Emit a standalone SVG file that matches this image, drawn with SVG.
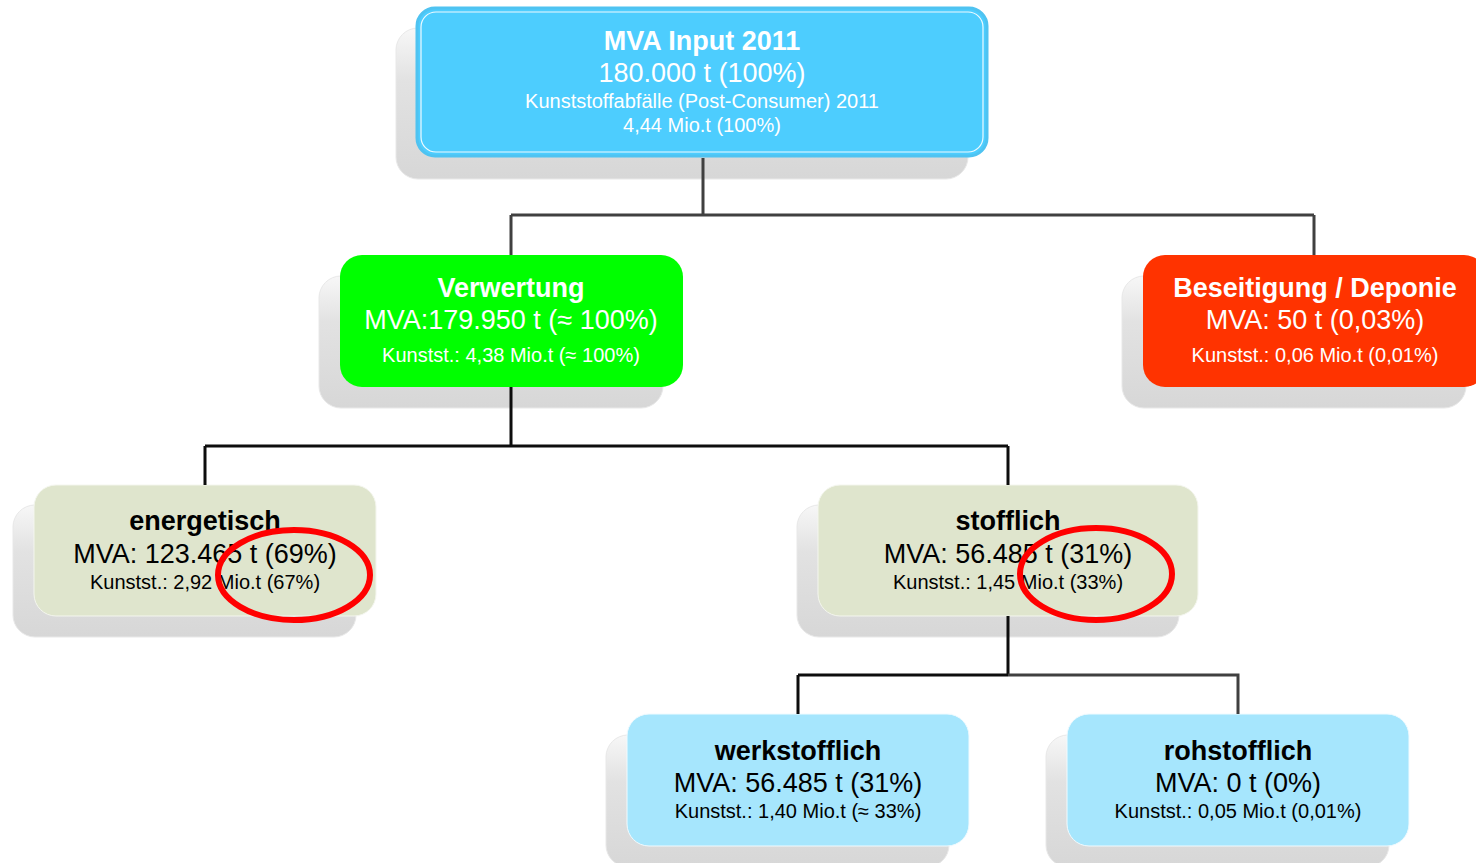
<svg xmlns="http://www.w3.org/2000/svg" width="1476" height="863" viewBox="0 0 1476 863">
<defs>
<linearGradient id="shd" x1="0" y1="0" x2="0" y2="1">
<stop offset="0" stop-color="#f7f7f7"/>
<stop offset="0.35" stop-color="#e2e2e2"/>
<stop offset="1" stop-color="#d7d7d7"/>
</linearGradient>
</defs>
<style>
.shadow{fill:url(#shd);stroke:#e8e8e8;stroke-width:1}
text{font-family:"Liberation Sans",Arial,sans-serif;text-anchor:middle}
.t1{font-size:27px;font-weight:bold}
.t2{font-size:27px}
.t3{font-size:20px}
.w{fill:#ffffff}
.k{fill:#000000}
.conn{fill:none;stroke-width:3;stroke-linejoin:miter}
.ell{fill:none;stroke:#ff0000;stroke-width:6}
</style>
<rect width="1476" height="863" fill="#ffffff"/>
<g id="node-input">
<rect class="shadow" x="396" y="28" width="572" height="151" rx="22"/>
<rect x="417" y="8" width="570" height="148" rx="18" fill="#4dcdfe" stroke="#4fc3f1" stroke-width="3"/>
<rect x="421" y="12" width="562" height="140" rx="15" fill="none" stroke="#ffffff" stroke-width="1.2" opacity="0.9"/>
<text class="t1 w" x="702" y="50">MVA Input 2011</text>
<text class="t2 w" x="702" y="82">180.000 t (100%)</text>
<text class="t3 w" x="702" y="108">Kunststoffabfälle (Post-Consumer) 2011</text>
<text class="t3 w" x="702" y="132">4,44 Mio.t (100%)</text>
</g>
<g id="node-verwertung">
<rect class="shadow" x="319" y="276" width="344" height="132" rx="22"/>
<rect x="340" y="255" width="343" height="132" rx="22" fill="#00ff00"/>
<text class="t1 w" x="511" y="297">Verwertung</text>
<text class="t2 w" x="511" y="329">MVA:179.950 t (≈ 100%)</text>
<text class="t3 w" x="511" y="362">Kunstst.: 4,38 Mio.t (≈ 100%)</text>
</g>
<g id="node-beseitigung">
<rect class="shadow" x="1122" y="276" width="344" height="132" rx="22"/>
<rect x="1143" y="255" width="343" height="132" rx="22" fill="#ff3300"/>
<text class="t1 w" x="1315" y="297">Beseitigung / Deponie</text>
<text class="t2 w" x="1315" y="329">MVA: 50 t (0,03%)</text>
<text class="t3 w" x="1315" y="362">Kunstst.: 0,06 Mio.t (0,01%)</text>
</g>
<g id="node-energetisch">
<rect class="shadow" x="13" y="505" width="343" height="132" rx="22"/>
<rect x="34" y="485" width="342" height="131" rx="22" fill="#dfe5cd" stroke="#f4f6ee" stroke-width="1"/>
<text class="t1 k" x="205" y="530">energetisch</text>
<text class="t2 k" x="205" y="563">MVA: 123.465 t (69%)</text>
<text class="t3 k" x="205" y="589">Kunstst.: 2,92 Mio.t (67%)</text>
</g>
<g id="node-stofflich">
<rect class="shadow" x="797" y="505" width="382" height="132" rx="22"/>
<rect x="818" y="485" width="380" height="131" rx="22" fill="#dfe5cd" stroke="#f4f6ee" stroke-width="1"/>
<text class="t1 k" x="1008" y="530">stofflich</text>
<text class="t2 k" x="1008" y="563">MVA: 56.485 t (31%)</text>
<text class="t3 k" x="1008" y="589">Kunstst.: 1,45 Mio.t (33%)</text>
</g>
<g id="node-werkstofflich">
<rect class="shadow" x="606" y="735" width="343" height="132" rx="22"/>
<rect x="627" y="714" width="342" height="132" rx="22" fill="#a6e6fd" stroke="#f0fbff" stroke-width="1"/>
<text class="t1 k" x="798" y="760">werkstofflich</text>
<text class="t2 k" x="798" y="792">MVA: 56.485 t (31%)</text>
<text class="t3 k" x="798" y="818">Kunstst.: 1,40 Mio.t (≈ 33%)</text>
</g>
<g id="node-rohstofflich">
<rect class="shadow" x="1046" y="735" width="343" height="132" rx="22"/>
<rect x="1067" y="714" width="342" height="132" rx="22" fill="#a6e6fd" stroke="#f0fbff" stroke-width="1"/>
<text class="t1 k" x="1238" y="760">rohstofflich</text>
<text class="t2 k" x="1238" y="792">MVA: 0 t (0%)</text>
<text class="t3 k" x="1238" y="818">Kunstst.: 0,05 Mio.t (0,01%)</text>
</g>
<g id="connectors">
<path class="conn" stroke="#404040" d="M703,158 V215 M511,215 H1314 M511,215 V255 M1314,215 V255"/>
<path class="conn" stroke="#0d0d0d" d="M511,387 V446 M205,446 H1008 M205,446 V485 M1008,446 V485"/>
<path class="conn" stroke="#0d0d0d" d="M1008,616 V675 M798,675 H1008 M798,675 V714"/>
<path class="conn" stroke="#404040" d="M1008,675 H1238 V714"/>
</g>
<g id="highlights">
<ellipse class="ell" cx="294" cy="575" rx="76" ry="45"/>
<ellipse class="ell" cx="1096" cy="574" rx="76" ry="46"/>
</g>
</svg>
